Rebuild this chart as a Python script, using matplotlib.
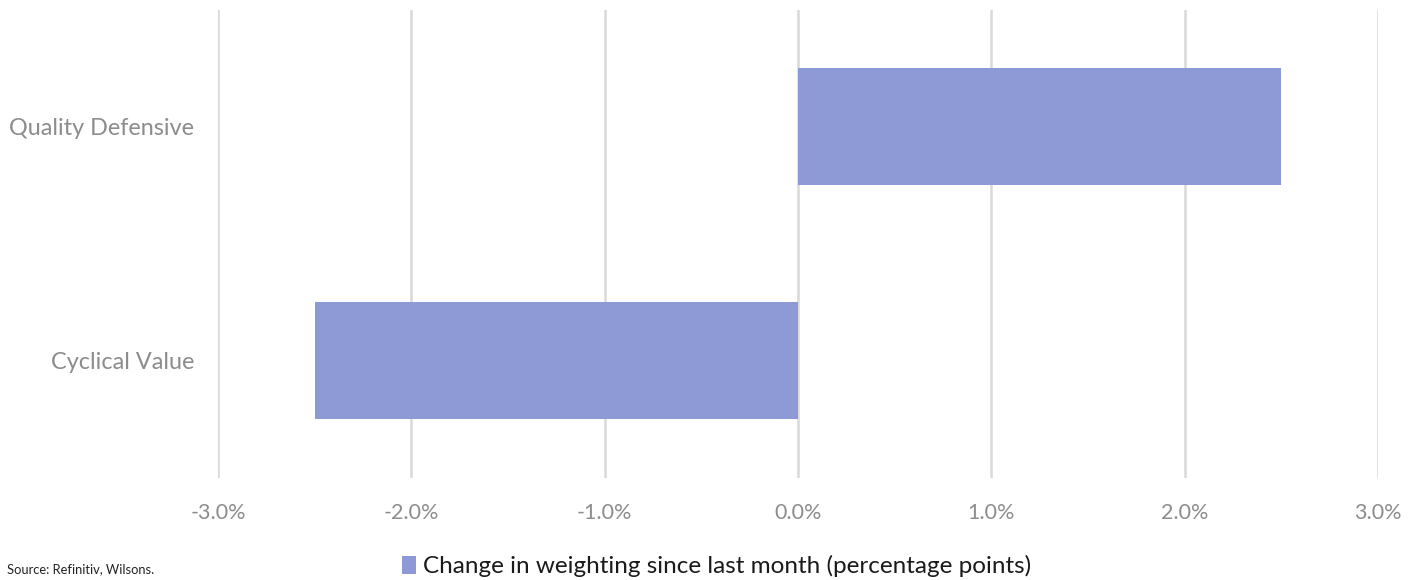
import matplotlib.pyplot as plt
from matplotlib.patches import Patch
from matplotlib.ticker import FuncFormatter

plt.rcParams['font.family'] = ['Lato', 'DejaVu Sans']

categories = ['Cyclical Value', 'Quality Defensive']
changes = [-2.5, 2.5]
x_ticks = [-3, -2, -1, 0, 1, 2, 3]
series_name = 'Change in weighting since last month (percentage points)'

bar_color = '#8e9ad5'
grid_color = '#d9d9d9'
tick_color = '#8c8c8c'

fig = plt.figure(figsize=(14.22, 5.8), dpi=100)
ax = fig.add_axes([0.1533, 0.1759, 0.8157, 0.8069])

ax.barh(categories, changes, height=0.5, color=bar_color, zorder=3)

ax.set_xlim(-3, 3)
ax.set_ylim(-0.5, 1.5)
ax.set_xticks(x_ticks)
ax.xaxis.set_major_formatter(FuncFormatter(lambda v, _: f'{v:.1f}%'))
ax.grid(axis='x', color=grid_color, linewidth=1.8, zorder=0)
ax.grid(axis='y', visible=False)
for s in ax.spines.values():
    s.set_visible(False)
ax.tick_params(axis='x', length=0, labelsize=15.5, labelcolor=tick_color, pad=18)
ax.tick_params(axis='y', length=0, labelsize=16.8, labelcolor=tick_color, pad=17)

handle = Patch(facecolor=bar_color, edgecolor='none')
fig.legend([handle], [series_name], loc='center left', bbox_to_anchor=(0.267, 0.024),
           frameon=False, fontsize=17.5, handlelength=0.6, handleheight=0.75,
           handletextpad=0.3, labelcolor='#1a1a1a')

fig.text(0.005, 0.008, 'Source: Refinitiv, Wilsons.', fontsize=9.3, color='#222222',
         ha='left', va='bottom')

fig.savefig('out.png', dpi=100)
